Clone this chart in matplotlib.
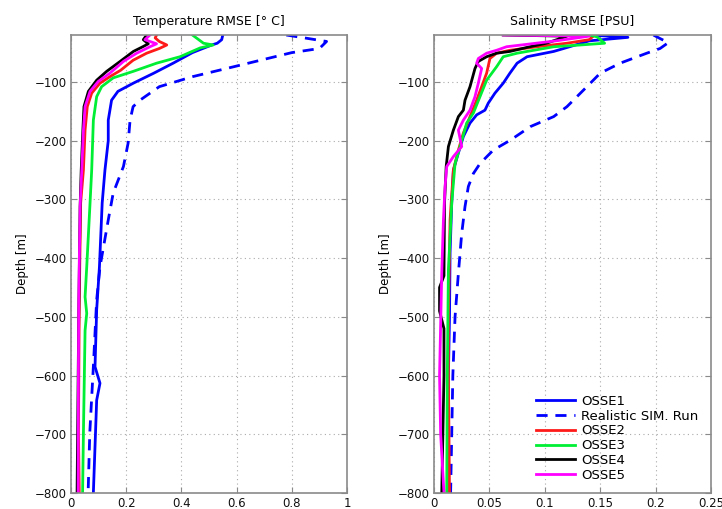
import matplotlib
matplotlib.use("Agg")
import matplotlib.pyplot as plt

plt.rcParams['font.family'] = ['DejaVu Sans']

# ---------------- Temperature RMSE data ----------------
t_osse1_depth = [-20, -28, -34, -37, -50, -68, -85, -102, -116, -131, -165, -200, -250, -306, -415, -488, -585, -613, -642, -800]
t_osse1_val = [0.55, 0.546, 0.53, 0.51, 0.44, 0.37, 0.30, 0.226, 0.17, 0.147, 0.135, 0.135, 0.123, 0.113, 0.103, 0.093, 0.087, 0.105, 0.093, 0.081]

t_real_depth = [-20, -31, -43, -50, -74, -91, -108, -131, -142, -165, -204, -244, -289, -335, -415, -471, -585, -698, -800]
t_real_val = [0.78, 0.926, 0.90, 0.80, 0.59, 0.44, 0.32, 0.25, 0.225, 0.214, 0.207, 0.19, 0.153, 0.135, 0.105, 0.093, 0.081, 0.068, 0.062]

t_osse2_depth = [-20, -25, -31, -37, -43, -51, -63, -80, -91, -102, -119, -142, -182, -250, -306, -471, -698, -800]
t_osse2_val = [0.31, 0.305, 0.32, 0.347, 0.32, 0.274, 0.225, 0.18, 0.141, 0.105, 0.075, 0.059, 0.051, 0.045, 0.035, 0.030, 0.027, 0.03]

t_osse3_depth = [-20, -34, -37, -42, -57, -68, -82, -93, -108, -125, -165, -250, -306, -415, -466, -494, -523, -698, -800]
t_osse3_val = [0.44, 0.48, 0.515, 0.468, 0.395, 0.31, 0.225, 0.153, 0.111, 0.093, 0.081, 0.075, 0.069, 0.057, 0.051, 0.057, 0.051, 0.045, 0.042]

t_osse4_depth = [-20, -28, -35, -40, -48, -65, -82, -97, -116, -142, -182, -250, -312, -500, -698, -800]
t_osse4_val = [0.274, 0.262, 0.28, 0.26, 0.226, 0.178, 0.129, 0.093, 0.063, 0.047, 0.043, 0.037, 0.033, 0.028, 0.024, 0.022]

t_osse5_depth = [-20, -28, -35, -40, -51, -65, -85, -99, -116, -142, -182, -250, -312, -471, -698, -800]
t_osse5_val = [0.286, 0.268, 0.31, 0.286, 0.238, 0.19, 0.141, 0.099, 0.069, 0.051, 0.045, 0.039, 0.033, 0.028, 0.026, 0.026]

# ---------------- Salinity RMSE data ----------------
s_osse1_depth = [-20, -24, -30, -43, -48, -57, -68, -85, -102, -119, -136, -148, -156, -170, -193, -221, -250, -306, -391, -500, -600, -700, -800]
s_osse1_val = [0.14, 0.175, 0.14, 0.117, 0.108, 0.084, 0.075, 0.0685, 0.0625, 0.055, 0.049, 0.046, 0.0385, 0.0325, 0.0265, 0.022, 0.0175, 0.016, 0.0145, 0.014, 0.013, 0.013, 0.012]

s_real_depth = [-20, -26, -33, -43, -51, -68, -85, -108, -125, -142, -159, -176, -199, -216, -239, -256, -278, -312, -358, -426, -500, -600, -700, -800]
s_real_val = [0.198, 0.204, 0.2115, 0.204, 0.192, 0.168, 0.15, 0.138, 0.129, 0.12, 0.108, 0.087, 0.069, 0.0535, 0.0415, 0.0355, 0.031, 0.028, 0.025, 0.022, 0.019, 0.017, 0.016, 0.015]

s_osse2_depth = [-20, -28, -34, -40, -46, -51, -60, -85, -108, -131, -159, -187, -216, -250, -335, -500, -600, -800]
s_osse2_val = [0.145, 0.14, 0.12, 0.093, 0.0685, 0.0565, 0.0505, 0.0475, 0.043, 0.0385, 0.0325, 0.0265, 0.022, 0.0175, 0.0145, 0.013, 0.013, 0.014]

s_osse3_depth = [-20, -23, -34, -37, -40, -46, -51, -57, -74, -97, -125, -153, -170, -210, -239, -306, -420, -600, -800]
s_osse3_val = [0.14, 0.147, 0.154, 0.132, 0.108, 0.09, 0.075, 0.0625, 0.0565, 0.0475, 0.0415, 0.0355, 0.0295, 0.0235, 0.019, 0.016, 0.013, 0.012, 0.0115]

s_osse4_depth = [-20, -22, -34, -40, -48, -51, -57, -65, -77, -108, -131, -148, -159, -182, -210, -244, -306, -430, -450, -490, -520, -600, -700, -800]
s_osse4_val = [0.0625, 0.12, 0.1015, 0.0865, 0.0685, 0.0565, 0.0475, 0.04, 0.037, 0.0325, 0.028, 0.0265, 0.022, 0.0175, 0.013, 0.011, 0.0095, 0.009, 0.005, 0.005, 0.009, 0.009, 0.008, 0.007]

s_osse5_depth = [-20, -22, -30, -40, -46, -51, -60, -68, -77, -102, -125, -148, -165, -182, -210, -227, -244, -278, -335, -426, -600, -700, -800]
s_osse5_val = [0.0625, 0.14, 0.11, 0.0655, 0.0565, 0.0475, 0.04, 0.0385, 0.043, 0.04, 0.037, 0.0325, 0.0265, 0.022, 0.025, 0.0175, 0.0115, 0.01, 0.0085, 0.007, 0.005, 0.006, 0.009]

labels = ["OSSE1", "Realistic SIM. Run", "OSSE2", "OSSE3", "OSSE4", "OSSE5"]
colors = ["#0000ff", "#0000ff", "#ff1a1a", "#00ee33", "#000000", "#ff00ff"]

y_ticks = [-100, -200, -300, -400, -500, -600, -700, -800]
t_xticks = [0, 0.2, 0.4, 0.6, 0.8, 1]
t_xticklabels = ["0", "0.2", "0.4", "0.6", "0.8", "1"]
s_xticks = [0, 0.05, 0.1, 0.15, 0.2, 0.25]
s_xticklabels = ["0", "0.05", "0.1", "0.15", "0.2", "0.25"]

fig = plt.figure(figsize=(7.22, 5.09), dpi=100)
ax1 = fig.add_axes([71/722, 1-493/509, 276/722, 458/509])
ax2 = fig.add_axes([434/722, 1-493/509, 277/722, 458/509])

frame_col = "#8a8a8a"

def style(ax, xticks, xlabels, xmax, title):
    ax.set_xlim(0, xmax)
    ax.set_ylim(-800, -20)
    ax.set_xticks(xticks)
    ax.set_xticklabels(xlabels)
    ax.set_yticks(y_ticks)
    ax.set_yticklabels([str(v).replace('-', '\u2212') for v in y_ticks])
    ax.tick_params(direction='in', top=True, right=True, length=4, width=0.8,
                   color=frame_col, labelsize=8.5, pad=3, labelcolor='#111111')
    for sp in ax.spines.values():
        sp.set_color(frame_col)
        sp.set_linewidth(1.2)
    ax.grid(True, linestyle=(0, (1, 3)), color='#aaaaaa', linewidth=0.8)
    ax.set_axisbelow(True)
    ax.set_title(title, fontsize=9, pad=7)
    ax.set_ylabel("Depth [m]", fontsize=8.5, labelpad=4)

t_series = [(t_osse1_val, t_osse1_depth), (t_real_val, t_real_depth), (t_osse2_val, t_osse2_depth),
            (t_osse3_val, t_osse3_depth), (t_osse4_val, t_osse4_depth), (t_osse5_val, t_osse5_depth)]
s_series = [(s_osse1_val, s_osse1_depth), (s_real_val, s_real_depth), (s_osse2_val, s_osse2_depth),
            (s_osse3_val, s_osse3_depth), (s_osse4_val, s_osse4_depth), (s_osse5_val, s_osse5_depth)]

for ax, series in ((ax1, t_series), (ax2, s_series)):
    for i, ((x, y), lab, c) in enumerate(zip(series, labels, colors)):
        if i == 1:
            ax.plot(x, y, color=c, lw=2, linestyle=(0, (4, 2.8)), label=lab)
        else:
            ax.plot(x, y, color=c, lw=2, label=lab)

style(ax1, t_xticks, t_xticklabels, 1, "Temperature RMSE [\u00b0 C]")
style(ax2, s_xticks, s_xticklabels, 0.25, "Salinity RMSE [PSU]")

ax2.legend(loc='lower right', bbox_to_anchor=((698-434)/277, 0.025), frameon=False, fontsize=9.5,
           handlelength=3.0, labelspacing=0.13, handletextpad=0.4, borderpad=0.0, borderaxespad=0.0)

fig.savefig("out.png", dpi=100)
